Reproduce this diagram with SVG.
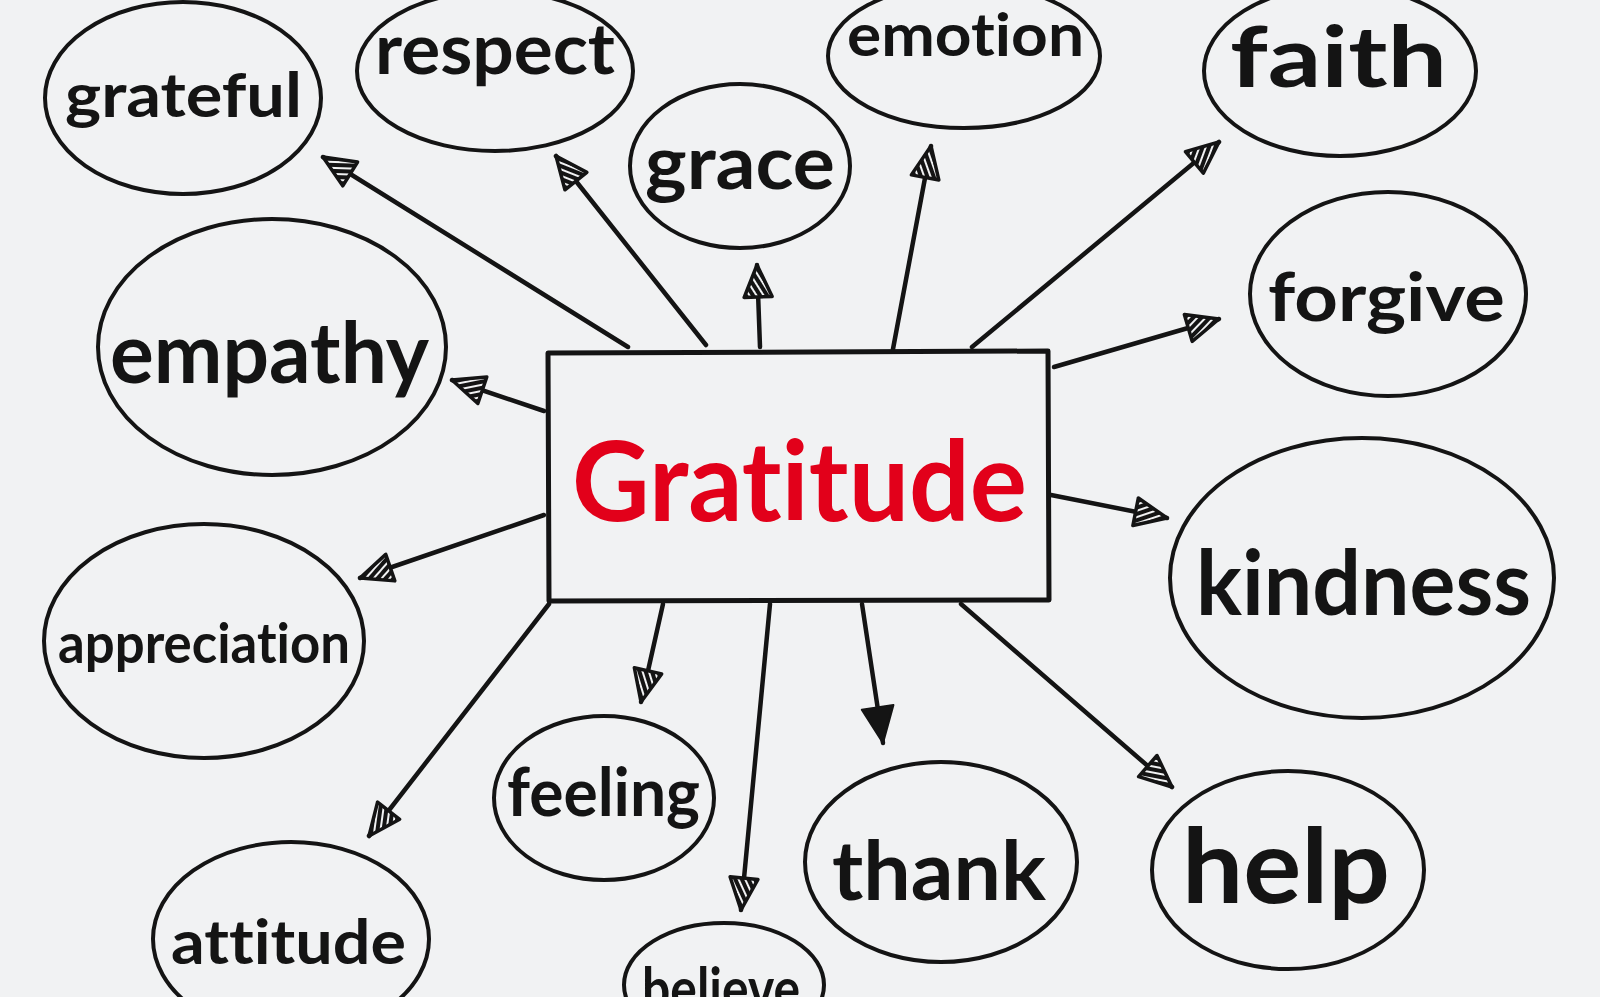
<svg xmlns="http://www.w3.org/2000/svg" width="1600" height="997" viewBox="0 0 1600 997">
<style>
.bg{fill:#f1f2f3}
.node ellipse{fill:none;stroke:#141414;stroke-width:4}
.node text{font-family:Lato,"Open Sans","DejaVu Sans",sans-serif;font-weight:700;fill:#141414;text-anchor:start;font-variant-ligatures:none}
.edge{stroke:#141414;stroke-width:4.5;fill:none;stroke-linecap:round;marker-end:url(#hatch)}
.edge.solid{marker-end:url(#solid)}
</style>
<defs>
<pattern id="hl" width="6" height="6" patternUnits="userSpaceOnUse" patternTransform="rotate(60)">
<rect width="6" height="6" fill="#f1f2f3"/>
<rect width="4" height="6" fill="#141414"/>
</pattern>
<marker id="hatch" markerUnits="userSpaceOnUse" markerWidth="40" markerHeight="36" viewBox="0 0 40 36" refX="36" refY="18" orient="auto">
<path d="M36,18 L4,4 L4,32 Z" fill="url(#hl)" stroke="#141414" stroke-width="3.5" stroke-linejoin="round"/>
</marker>
<marker id="solid" markerUnits="userSpaceOnUse" markerWidth="44" markerHeight="40" viewBox="0 0 44 40" refX="40" refY="20" orient="auto">
<path d="M40,20 L4,4 L4,36 Z" fill="#141414" stroke="#141414" stroke-width="2" stroke-linejoin="round"/>
</marker>
</defs>
<rect class="bg" x="0" y="0" width="1600" height="997"/>

<g id="connectors">
<line class="edge" x1="628" y1="347" x2="323" y2="157"/>
<line class="edge" x1="706" y1="345" x2="556" y2="156"/>
<line class="edge" x1="760" y1="347" x2="757" y2="265"/>
<line class="edge" x1="893" y1="349" x2="931" y2="146"/>
<line class="edge" x1="972" y1="347" x2="1219" y2="142"/>
<line class="edge" x1="1054" y1="367" x2="1219" y2="319"/>
<line class="edge" x1="544" y1="411" x2="452" y2="380"/>
<line class="edge" x1="544" y1="515" x2="360" y2="578"/>
<line class="edge" x1="1051" y1="495" x2="1167" y2="518"/>
<line class="edge" x1="663" y1="604" x2="641" y2="702"/>
<line class="edge" x1="770" y1="604" x2="741" y2="910"/>
<line class="edge solid" x1="862" y1="604" x2="883" y2="743"/>
<line class="edge" x1="961" y1="604" x2="1172" y2="787"/>
<line class="edge" x1="549" y1="604" x2="369" y2="836"/>
</g>

<g id="center">
<path d="M548,353 L1048,351 L1049,600 L549,601 Z" fill="#f1f2f3" stroke="#141414" stroke-width="5" stroke-linejoin="round"/>
<text x="572" y="521" textLength="455" lengthAdjust="spacingAndGlyphs" style="font-family:Lato,'Open Sans',sans-serif;font-weight:700;font-size:112px;fill:#e2001a;font-variant-ligatures:none">Gratitude</text>
</g>

<g id="grateful" class="node"><ellipse cx="183" cy="98" rx="138" ry="96"/><text x="65" y="117" font-size="62" textLength="237" lengthAdjust="spacingAndGlyphs">grateful</text></g>
<g id="respect" class="node"><ellipse cx="495" cy="71" rx="138" ry="80"/><text x="375" y="74" font-size="70" textLength="240" lengthAdjust="spacingAndGlyphs">respect</text></g>
<g id="grace" class="node"><ellipse cx="740" cy="166" rx="110" ry="82"/><text x="645" y="189" font-size="74" textLength="190" lengthAdjust="spacingAndGlyphs">grace</text></g>
<g id="emotion" class="node"><ellipse cx="964" cy="56" rx="136" ry="72"/><text x="847" y="56" font-size="60" textLength="237" lengthAdjust="spacingAndGlyphs">emotion</text></g>
<g id="faith" class="node"><ellipse cx="1340" cy="71" rx="136" ry="85"/><text x="1230" y="87" font-size="84" textLength="217" lengthAdjust="spacingAndGlyphs">faith</text></g>
<g id="forgive" class="node"><ellipse cx="1388" cy="294" rx="138" ry="102"/><text x="1268" y="321" font-size="66" textLength="237" lengthAdjust="spacingAndGlyphs">forgive</text></g>
<g id="empathy" class="node"><ellipse cx="272" cy="347" rx="174" ry="128"/><text x="110" y="383" font-size="84" textLength="319" lengthAdjust="spacingAndGlyphs">empathy</text></g>
<g id="appreciation" class="node"><ellipse cx="204" cy="641" rx="160" ry="117"/><text x="58" y="663" font-size="56" textLength="292" lengthAdjust="spacingAndGlyphs">appreciation</text></g>
<g id="kindness" class="node"><ellipse cx="1362" cy="578" rx="192" ry="140"/><text x="1196" y="615" font-size="90" textLength="335" lengthAdjust="spacingAndGlyphs">kindness</text></g>
<g id="feeling" class="node"><ellipse cx="604" cy="798" rx="110" ry="82"/><text x="507" y="816" font-size="66" textLength="193" lengthAdjust="spacingAndGlyphs">feeling</text></g>
<g id="thank" class="node"><ellipse cx="941" cy="862" rx="136" ry="100"/><text x="832" y="900" font-size="82" textLength="214" lengthAdjust="spacingAndGlyphs">thank</text></g>
<g id="help" class="node"><ellipse cx="1288" cy="870" rx="136" ry="99"/><text x="1182" y="903" font-size="104" textLength="208" lengthAdjust="spacingAndGlyphs">help</text></g>
<g id="attitude" class="node"><ellipse cx="291" cy="939" rx="138" ry="97"/><text x="171" y="964" font-size="62" textLength="235" lengthAdjust="spacingAndGlyphs">attitude</text></g>
<g id="believe" class="node"><ellipse cx="724" cy="985" rx="100" ry="62"/><text x="642" y="1010" font-size="60" textLength="158" lengthAdjust="spacingAndGlyphs">believe</text></g>
</svg>
